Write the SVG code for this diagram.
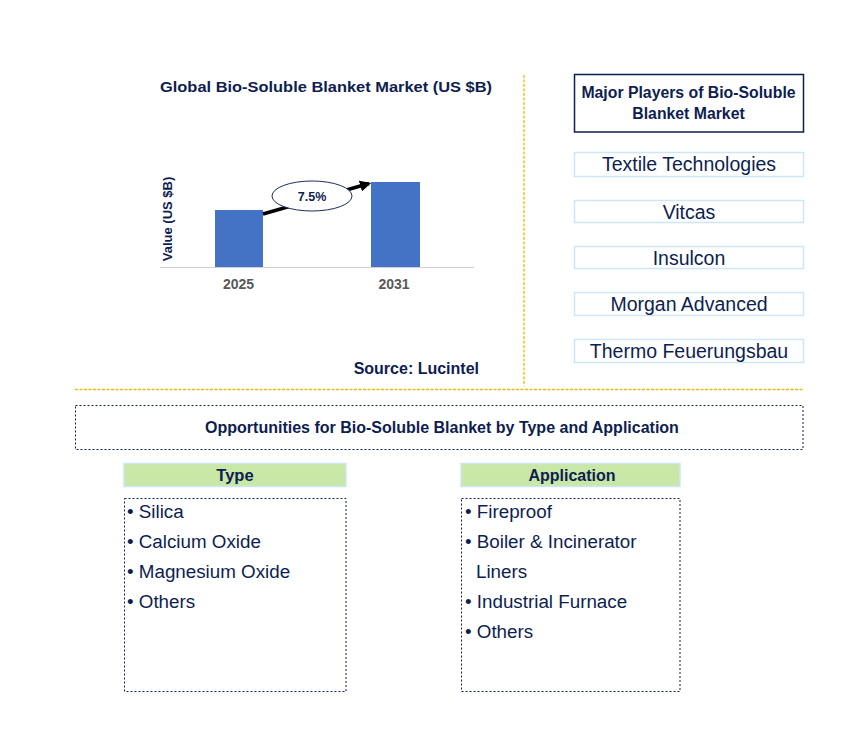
<svg xmlns="http://www.w3.org/2000/svg" width="868" height="752" viewBox="0 0 868 752">
<defs>
<style>
text{font-family:"Liberation Sans",Arial,sans-serif;fill:#0e1e50}
.b{font-weight:bold}
.sep{stroke:#f5b800;stroke-width:1.3;stroke-dasharray:3,1.5;fill:none}
.dot{stroke:#0e1e50;stroke-width:1;stroke-dasharray:2,2;fill:none}
.pl{fill:#fff;stroke:#cde6f7;stroke-width:1.5}
.pt{font-size:19.5px;text-anchor:middle}
.hd{fill:#c9e7a6;stroke:#cde6f7;stroke-width:1.5}
.it{font-size:18.8px}
.bar{fill:#4472c4}
</style>
<marker id="ah" viewBox="0 0 10 10" refX="8" refY="5" markerWidth="3.2" markerHeight="3.2" orient="auto" markerUnits="strokeWidth">
<path d="M0,0 L10,5 L0,10 z" fill="#000"/>
</marker>
</defs>
<rect width="868" height="752" fill="#fff"/>
<g id="separators">
<line class="sep" x1="524" y1="75" x2="524" y2="386"/>
<line class="sep" x1="75" y1="389.5" x2="803" y2="389.5"/>
</g>
<g id="chart">
<text class="b" x="326" y="92" font-size="15.5" text-anchor="middle" textLength="332" lengthAdjust="spacingAndGlyphs">Global Bio-Soluble Blanket Market (US $B)</text>
<text class="b" transform="translate(172,219) rotate(-90)" font-size="13" text-anchor="middle">Value (US $B)</text>
<rect class="bar" x="215" y="210" width="48" height="57"/>
<rect class="bar" x="371" y="182" width="49" height="85"/>
<line x1="160" y1="267.5" x2="474" y2="267.5" stroke="#d0d0d0" stroke-width="1.2"/>
<text class="b" x="238.5" y="289" font-size="14" text-anchor="middle" style="fill:#595959">2025</text>
<text class="b" x="394" y="289" font-size="14" text-anchor="middle" style="fill:#595959">2031</text>
<text class="b" x="479" y="374" font-size="16" text-anchor="end">Source: Lucintel</text>
</g>
<g id="connectors">
<line x1="263" y1="214" x2="369" y2="183.5" stroke="#000" stroke-width="3.5" marker-end="url(#ah)"/>
</g>
<g id="cagr">
<ellipse cx="312" cy="196" rx="40" ry="15" fill="#fff" stroke="#1f2d5c" stroke-width="1"/>
<text class="b" x="312" y="201" font-size="12.5" text-anchor="middle">7.5%</text>
</g>
<g id="players-header">
<rect x="574.5" y="74.5" width="229" height="57.5" fill="#fff" stroke="#0e1e50" stroke-width="1.5"/>
<text class="b" x="688.5" y="98" font-size="15.8" text-anchor="middle">Major Players of Bio-Soluble</text>
<text class="b" x="688.5" y="118.5" font-size="15.8" text-anchor="middle">Blanket Market</text>
</g>
<g id="player-1"><rect class="pl" x="574.5" y="152.5" width="229" height="24"/><text class="pt" x="689" y="171">Textile Technologies</text></g>
<g id="player-2"><rect class="pl" x="574.5" y="200.5" width="229" height="22"/><text class="pt" x="689" y="218.5">Vitcas</text></g>
<g id="player-3"><rect class="pl" x="574.5" y="246.5" width="229" height="22"/><text class="pt" x="689" y="264.5">Insulcon</text></g>
<g id="player-4"><rect class="pl" x="574.5" y="292.5" width="229" height="23"/><text class="pt" x="689" y="311">Morgan Advanced</text></g>
<g id="player-5"><rect class="pl" x="574.5" y="339.5" width="229" height="23"/><text class="pt" x="689" y="357.5">Thermo Feuerungsbau</text></g>
<g id="opportunities">
<rect class="dot" x="75.5" y="405.5" width="727.5" height="44"/>
<text class="b" x="442" y="433" font-size="16" text-anchor="middle">Opportunities for Bio-Soluble Blanket by Type and Application</text>
</g>
<g id="type">
<rect class="hd" x="124" y="463.5" width="222" height="23"/>
<text class="b" x="235" y="480.5" font-size="16.5" text-anchor="middle">Type</text>
<rect class="dot" x="124.5" y="498.5" width="221.5" height="193"/>
<text class="it" x="127" y="517.5">• Silica</text>
<text class="it" x="127" y="547.5">• Calcium Oxide</text>
<text class="it" x="127" y="577.5">• Magnesium Oxide</text>
<text class="it" x="127" y="607.5">• Others</text>
</g>
<g id="application">
<rect class="hd" x="461" y="463.5" width="219" height="23"/>
<text class="b" x="572" y="480.5" font-size="16" text-anchor="middle">Application</text>
<rect class="dot" x="461.5" y="498.5" width="218.5" height="193"/>
<text class="it" x="465" y="517.5">• Fireproof</text>
<text class="it" x="465" y="547.5">• Boiler &amp; Incinerator</text>
<text class="it" x="476" y="577.5">Liners</text>
<text class="it" x="465" y="607.5">• Industrial Furnace</text>
<text class="it" x="465" y="637.5">• Others</text>
</g>
</svg>
